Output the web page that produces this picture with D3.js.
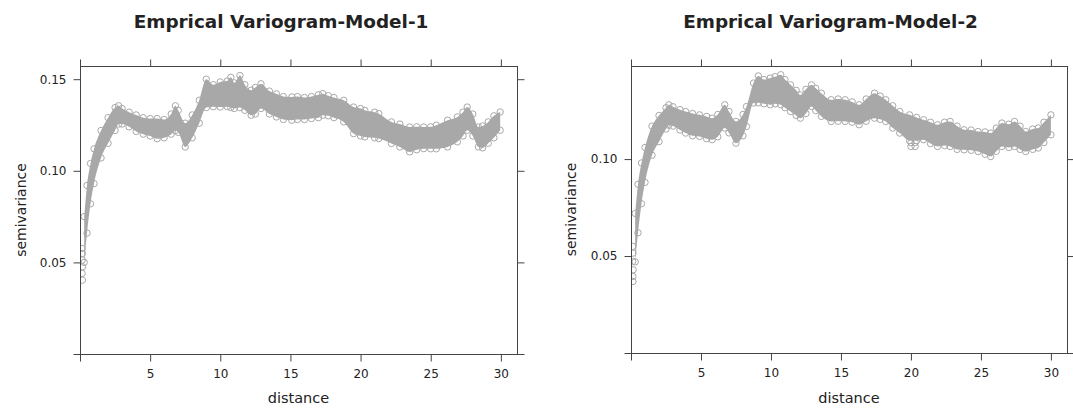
<!DOCTYPE html>
<html><head><meta charset="utf-8">
<script src="https://cdn.jsdelivr.net/npm/d3@7"></script>
<style>
body{margin:0;background:#fff}
svg{display:block}
text{font-family:"DejaVu Sans",sans-serif;fill:#222}
</style></head><body>
<svg id="c" width="1073" height="408"></svg>
<script>
// ---------- data ----------
const titles = ["Emprical Variogram-Model-1", "Emprical Variogram-Model-2"];
const xLabel = "distance";
const yLabel = "semivariance";
const xTicks = [0, 5, 10, 15, 20, 25, 30];
const yTicks1 = [0, 0.05, 0.10, 0.15];
const yTicks2 = [0, 0.05, 0.10];
const xMax1 = 31.15, yMax1 = 0.1572;
const xMax2 = 31.15, yMax2 = 0.148;

// Model 1: distance samples with lower / upper edge of the point cloud
const dist1 = [0.3,0.5,0.75,1.0,1.5,2.0,2.5,2.75,3.0,3.5,4.0,4.5,5.0,5.5,6.0,6.5,6.8,7.0,7.5,8.0,8.5,9.0,9.5,10.0,10.5,10.75,11.0,11.4,11.75,12.2,12.5,12.9,13.5,14.0,14.5,15.1,15.5,16.0,16.5,17.0,17.3,17.7,18.1,18.8,19.5,20.0,20.3,21.0,21.3,22.2,22.8,23.5,24.0,24.5,25.0,25.4,26.2,26.9,27.3,27.6,28.0,28.4,28.7,29.1,29.5,29.95];
const lo1 = [.050,.066,.082,.093,.107,.115,.122,.1255,.1255,.124,.1215,.120,.119,.1175,.118,.120,.122,.121,.113,.118,.126,.1345,.135,.1348,.135,.1345,.134,.1345,.133,.1303,.131,.134,.131,.1294,.128,.1276,.128,.128,.1285,.129,.1303,.130,.129,.1267,.1203,.119,.1185,.118,.1176,.1149,.113,.1103,.1115,.1121,.112,.112,.113,.1158,.119,.1221,.119,.113,.1125,.115,.118,.1221];
const hi1 = [.075,.092,.104,.112,.122,.129,.1345,.1355,.134,.132,.1305,.129,.1285,.1285,.128,.131,.1355,.133,.126,.1305,.1385,.150,.147,.1485,.149,.151,.148,.152,.147,.144,.1455,.1475,.1435,.142,.1405,.1403,.1405,.140,.1405,.1415,.1421,.141,.140,.1385,.1348,.134,.133,.132,.1312,.1267,.1255,.1239,.124,.1239,.124,.1249,.1276,.1294,.132,.1348,.131,.1239,.1245,.1267,.130,.1321];
const sparseD1 = [0.15,0.17,0.16,0.18,0.15,0.17];
const sparseV1 = [.0576,.0549,.0513,.0476,.044,.0403];

// Model 2
const dist2 = [0.3,0.5,0.75,1.0,1.5,2.0,2.5,2.7,3.0,3.5,3.9,4.4,4.9,5.4,5.8,6.2,6.7,7.0,7.5,8.0,8.25,8.75,9.1,9.5,9.95,10.3,10.7,11.0,11.4,11.8,12.1,12.5,12.9,13.2,13.6,14.3,14.8,15.3,15.8,16.3,16.8,17.4,17.8,18.2,18.7,19.2,19.9,20.4,20.9,21.4,21.9,22.4,22.8,23.3,23.8,24.3,24.8,25.3,25.7,26.1,26.5,27.0,27.4,27.8,28.2,28.7,29.1,29.5,30.0];
const lo2 = [.047,.062,.077,.088,.102,.109,.1155,.1175,.117,.115,.1134,.112,.1117,.1105,.110,.1115,.116,.1135,.1082,.112,.1168,.1289,.129,.1285,.128,.1285,.128,.1265,.1245,.1225,.1211,.1235,.1271,.125,.122,.1194,.1195,.1194,.119,.1177,.1195,.1211,.1205,.1194,.116,.1134,.1095,.1095,.110,.108,.1065,.107,.1065,.105,.1048,.1045,.1039,.1025,.1013,.104,.1065,.106,.1065,.105,.1039,.105,.1057,.1085,.1125];
const hi2 = [.072,.087,.098,.106,.117,.1225,.1265,.128,.127,.1255,.1245,.1235,.1228,.122,.1211,.123,.128,.1245,.1194,.123,.1271,.1392,.1429,.141,.1418,.1425,.1435,.141,.1383,.1355,.1331,.136,.1383,.1365,.134,.1306,.131,.1306,.1295,.128,.131,.134,.1325,.1306,.1275,.1245,.1228,.1215,.1203,.119,.1177,.119,.1194,.117,.1151,.115,.1142,.114,.1134,.116,.1186,.118,.1194,.117,.1142,.1155,.116,.119,.1228];
const sparseD2 = [0.12,0.14,0.12,0.15,0.13,0.14,20.0,20.3,20.0,20.3];
const sparseV2 = [.055,.0515,.0472,.0429,.0395,.0369,.1065,.1065,.1085,.1085];

// ---------- drawing ----------
const svg = d3.select("#c");
const ptColor = "#a8a8a8", axisColor = "#444", R = 3.2;

const panels = [
  {title: titles[0], d: dist1, lo: lo1, hi: hi1, sd: sparseD1, sv: sparseV1, yTicks: yTicks1, xMax: xMax1, yMax: yMax1,
   left: 80, right: 517, top: 66, bottom: 354, titleX: 281, ylabX: 26},
  {title: titles[1], d: dist2, lo: lo2, hi: hi2, sd: sparseD2, sv: sparseV2, yTicks: yTicks2, xMax: xMax2, yMax: yMax2,
   left: 631, right: 1067, top: 66, bottom: 353, titleX: 830.5, ylabX: 576}
];

panels.forEach(p => {
  const x = d3.scaleLinear().domain([0, p.xMax]).range([p.left, p.right]);
  const y = d3.scaleLinear().domain([0, p.yMax]).range([p.bottom, p.top]);
  const rows = p.d.map((d, i) => ({d, lo: p.lo[i], hi: p.hi[i]}));

  const g = svg.append("g");
  const clipId = "clip" + p.left;
  svg.append("clipPath").attr("id", clipId).append("rect")
     .attr("x", p.left).attr("y", p.top).attr("width", p.right - p.left).attr("height", p.bottom - p.top);
  const plot = g.append("g").attr("clip-path", `url(#${clipId})`);

  // dense band of overlapping points
  const area = d3.area().curve(d3.curveMonotoneX)
    .x(r => x(r.d)).y0(r => y(r.lo)).y1(r => y(r.hi));
  plot.append("path").datum(rows).attr("d", area).attr("fill", ptColor);

  const edgePts = [];
  rows.forEach(r => { edgePts.push([r.d, r.lo]); edgePts.push([r.d, r.hi]); });
  plot.selectAll("circle.e").data(edgePts).join("circle").attr("class", "e")
    .attr("cx", e => x(e[0])).attr("cy", e => y(e[1]))
    .attr("r", R).attr("fill", "none").attr("stroke", ptColor).attr("stroke-width", 1);
  plot.selectAll("circle.s").data(p.sd.map((d, i) => [d, p.sv[i]])).join("circle").attr("class", "s")
    .attr("cx", e => x(e[0])).attr("cy", e => y(e[1]))
    .attr("r", R).attr("fill", "none").attr("stroke", ptColor).attr("stroke-width", 1);

  // frame
  g.append("rect").attr("x", p.left + 0.5).attr("y", p.top + 0.5)
    .attr("width", p.right - p.left).attr("height", p.bottom - p.top)
    .attr("fill", "none").attr("stroke", axisColor);

  const fmtY = v => v === 0 ? "" : d3.format(".2f")(v);
  const fmtX = v => v === 0 ? "" : String(v);
  const style = sel => {
    sel.select(".domain").remove();
    sel.selectAll(".tick line").attr("stroke", axisColor);
    sel.selectAll(".tick text").attr("fill", "#222").style("font-size", "12px").style("font-family", "DejaVu Sans");
  };
  g.append("g").attr("transform", `translate(0,${p.bottom + 0.5})`)
    .call(d3.axisBottom(x).tickValues(xTicks).tickFormat(fmtX).tickSize(7).tickPadding(8)).call(style);
  g.append("g").attr("transform", `translate(0,${p.top + 0.5})`)
    .call(d3.axisTop(x).tickValues(xTicks).tickFormat("").tickSize(7)).call(style);
  g.append("g").attr("transform", `translate(${p.left + 0.5},0)`)
    .call(d3.axisLeft(y).tickValues(p.yTicks).tickFormat(fmtY).tickSize(7).tickPadding(7)).call(style);
  g.append("g").attr("transform", `translate(${p.right + 0.5},0)`)
    .call(d3.axisRight(y).tickValues(p.yTicks).tickFormat("").tickSize(7)).call(style);

  g.append("text").attr("x", p.titleX).attr("y", 28).attr("text-anchor", "middle")
    .style("font-size", "18.4px").style("font-weight", "bold").attr("fill", "#111").text(p.title);
  g.append("text").attr("x", (p.left + p.right) / 2).attr("y", 403).attr("text-anchor", "middle")
    .style("font-size", "14.5px").attr("fill", "#222").text(xLabel);
  g.append("text").attr("transform", `translate(${p.ylabX},${(p.top + p.bottom) / 2}) rotate(-90)`)
    .attr("text-anchor", "middle").style("font-size", "14px").attr("fill", "#222").text(yLabel);
});
</script>
</body></html>
